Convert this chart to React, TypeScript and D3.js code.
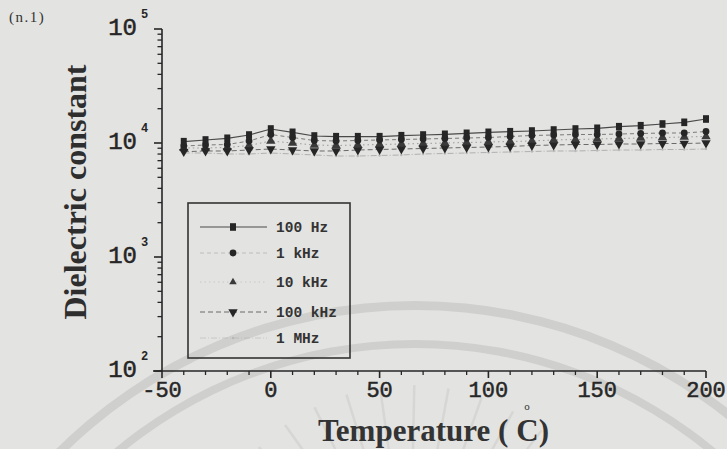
import React from "react";
import * as d3 from "d3";

// ---- data ----
const temperatures = [-40, -30, -20, -10, 0, 10, 20, 30, 40, 50, 60, 70, 80, 90, 100, 110, 120, 130, 140, 150, 160, 170, 180, 190, 200];
const hz100 = [10270, 10630, 11000, 11750, 13270, 12410, 11520, 11360, 11360, 11360, 11590, 11750, 11920, 12160, 12410, 12560, 12740, 13000, 13270, 13460, 13900, 14180, 14680, 15190, 16240];
const khz1 = [9410, 9600, 9700, 10410, 11870, 11170, 10520, 10410, 10520, 10630, 10730, 10840, 10950, 11060, 11170, 11400, 11640, 11750, 11870, 11870, 11990, 12110, 12240, 12240, 12610];
const khz10 = [9040, 9040, 9130, 9510, 10410, 10000, 9600, 9510, 9600, 9700, 9800, 9900, 10000, 10100, 10200, 10310, 10410, 10630, 10730, 10840, 10950, 11060, 11170, 11290, 11400];
const khz100 = [8390, 8510, 8510, 8680, 8860, 8680, 8510, 8510, 8680, 8770, 8860, 8950, 9040, 9130, 9220, 9320, 9510, 9600, 9700, 9700, 9800, 9800, 9900, 9900, 10000];
const mhz1 = [8170, 8170, 8010, 8010, 8170, 8010, 7850, 7690, 7690, 7770, 7850, 8010, 8090, 8170, 8260, 8340, 8420, 8510, 8510, 8590, 8680, 8680, 8770, 8770, 8860];
const seriesNames = ["100 Hz", "1 kHz", "10 kHz", "100 kHz", "1 MHz"];
const xTickValues = [-50, 0, 50, 100, 150, 200];
const yExponents = [2, 3, 4, 5];

const INK = "#262626";
const PAPER = "#e3e3e1";

type Style = { stroke: string; width: number; dash?: string; marker: string; mfill: string };
const styles: Style[] = [
  { stroke: "#4a4a4a", width: 1.2, marker: "square", mfill: INK },
  { stroke: "#7a7a7a", width: 1, dash: "4,3", marker: "circle", mfill: INK },
  { stroke: "#9a9a9a", width: 1, dash: "1.5,3", marker: "triUp", mfill: "#3a3a3a" },
  { stroke: "#6a6a6a", width: 1, dash: "5,3", marker: "triDown", mfill: INK },
  { stroke: "#b0b0b0", width: 1, dash: "6,2,1,2", marker: "dot", mfill: "#b8b8b8" },
];

function Marker({ kind, cx, cy, fill, scale = 1 }: { kind: string; cx: number; cy: number; fill: string; scale?: number }) {
  if (kind === "square") {
    return <rect x={cx - 3 * scale} y={cy - 3.8 * scale} width={6 * scale} height={7.6 * scale} fill={fill} />;
  }
  if (kind === "circle") return <circle cx={cx} cy={cy} r={3.4 * scale} fill={fill} />;
  if (kind === "dot") return <circle cx={cx} cy={cy} r={1.2 * scale} fill={fill} />;
  const tri = d3.symbol().type(d3.symbolTriangle).size(38 * scale * scale)() as string;
  const rot = kind === "triDown" ? 180 : 0;
  return <path d={tri} transform={`translate(${cx},${cy}) rotate(${rot})`} fill={fill} />;
}

export default function App() {
  const W = 727;
  const H = 449;
  const x = d3.scaleLinear().domain([-50, 200]).range([162, 706]);
  const y = d3.scaleLog().domain([1e2, 1e5]).range([371, 29]);
  const series = [hz100, khz1, khz10, khz100, mhz1];

  const line = d3
    .line<number>()
    .x((_, i) => x(temperatures[i]))
    .y((v) => y(v));

  const xMinor = d3.range(-50, 201, 10).filter((t) => t % 50 !== 0);
  const yMinor = y.ticks().filter((v) => Math.abs(Math.log10(v) - Math.round(Math.log10(v))) > 1e-6);

  const x0 = x.range()[0];
  const x1 = x.range()[1];
  const yB = y.range()[0];
  const yT = y.range()[1];

  // watermark (decorative, not data)
  const wmCenter = [415, 810];
  const arcOuter = d3.arc()({ innerRadius: 500, outerRadius: 509, startAngle: -0.8, endAngle: 0.8 } as any) as string;
  const arcInner = d3.arc()({ innerRadius: 462, outerRadius: 470, startAngle: -0.72, endAngle: 0.72 } as any) as string;
  const rayAngles = d3.range(-1.1, 1.11, 0.16);
  const rayCenter = [410, 600];

  const legendRows = [227, 253, 282, 312, 338];

  return (
    <svg
      width={W}
      height={H}
      viewBox={`0 0 ${W} ${H}`}
      style={{ position: "fixed", left: 0, top: 0, background: PAPER }}
    >
      <rect x={0} y={0} width={W} height={H} fill={PAPER} />
      <g transform={`translate(${wmCenter[0]},${wmCenter[1]})`} fill="#cfcfcd">
        <path d={arcOuter} />
        <path d={arcInner} />
      </g>
      <g stroke="#d6d6d4" strokeWidth={2.5}>
        {rayAngles.map((a, i) => (
          <line
            key={"ray" + i}
            x1={rayCenter[0] + Math.sin(a) * 150}
            y1={rayCenter[1] - Math.cos(a) * 150}
            x2={rayCenter[0] + Math.sin(a) * 215}
            y2={rayCenter[1] - Math.cos(a) * 215}
          />
        ))}
      </g>

      {/* panel label */}
      <text x={9} y={22} fontFamily="Liberation Serif" fontSize={15} fill="#333" letterSpacing={1.5}>
        (n.1)
      </text>

      {/* axes */}
      <g stroke={INK} strokeWidth={1.6} fill="none">
        <line x1={x0} x2={x0} y1={yT} y2={yB + 1} />
        <line x1={x0 - 9} x2={x1} y1={yB} y2={yB} />
        {yExponents.map((e) => (
          <line key={"ym" + e} x1={x0 - 8} x2={x0} y1={y(10 ** e)} y2={y(10 ** e)} />
        ))}
        {yMinor.map((v, i) => (
          <line key={"yn" + i} x1={x0 - 4.5} x2={x0} y1={y(v)} y2={y(v)} strokeWidth={1.3} />
        ))}
        {xTickValues.map((t) => (
          <line key={"xm" + t} x1={x(t)} x2={x(t)} y1={yB} y2={yB + 7} />
        ))}
        {xMinor.map((t) => (
          <line key={"xn" + t} x1={x(t)} x2={x(t)} y1={yB} y2={yB + 4} strokeWidth={1.3} />
        ))}
      </g>

      {/* y tick labels */}
      {yExponents.map((e) => (
        <g key={"yl" + e} fill={INK} fontFamily="Liberation Mono">
          <text x={137} y={y(10 ** e) + 6} fontSize={24} textAnchor="end" stroke={INK} strokeWidth={0.5}>
            10
          </text>
          <text x={141} y={y(10 ** e) - 11} fontSize={12} fontWeight="bold">
            {e}
          </text>
        </g>
      ))}

      {/* x tick labels */}
      {xTickValues.map((t) => (
        <text
          key={"xl" + t}
          x={x(t)}
          y={yB + 26}
          fontSize={22}
          fontFamily="Liberation Mono"
          textAnchor="middle"
          fill={INK}
          stroke={INK}
          strokeWidth={0.5}
        >
          {t < 0 ? "-" + Math.abs(t) : t}
        </text>
      ))}

      {/* axis titles */}
      <text
        transform={`translate(86,192) rotate(-90)`}
        textAnchor="middle"
        fontFamily="Liberation Serif"
        fontWeight="bold"
        fontSize={32}
        fill="#2e2e2e"
      >
        Dielectric constant
      </text>
      <text x={318} y={441} fontFamily="Liberation Serif" fontWeight="bold" fontSize={31} fill="#333">
        Temperature (
        <tspan dx={8}>C)</tspan>
      </text>
      <text x={527} y={410} fontFamily="Liberation Serif" fontSize={11} fill="#333" textAnchor="middle">
        o
      </text>

      {/* series lines */}
      {series.map((vals, si) => (
        <path
          key={"l" + si}
          d={line(vals) as string}
          fill="none"
          stroke={styles[si].stroke}
          strokeWidth={styles[si].width}
          strokeDasharray={styles[si].dash}
        />
      ))}
      {/* markers (faint first) */}
      {[4, 2, 1, 3, 0].map((si) =>
        series[si].map((v, i) => (
          <Marker key={`m${si}-${i}`} kind={styles[si].marker} cx={x(temperatures[i])} cy={y(v)} fill={styles[si].mfill} />
        ))
      )}

      {/* legend */}
      <rect x={188} y={203} width={162} height={155} fill="none" stroke="#333" strokeWidth={1.6} />
      {seriesNames.map((name, si) => (
        <g key={"lg" + si}>
          <line
            x1={200}
            x2={267}
            y1={legendRows[si]}
            y2={legendRows[si]}
            stroke={styles[si].stroke}
            strokeWidth={styles[si].width}
            strokeDasharray={styles[si].dash}
            opacity={si === 1 || si === 2 ? 0.35 : si === 4 ? 0.5 : 1}
          />
          <Marker kind={styles[si].marker} cx={233} cy={legendRows[si]} fill={styles[si].mfill} scale={si === 2 ? 0.8 : 1} />
          <text x={276} y={legendRows[si] + 5} fontFamily="Liberation Mono" fontWeight="bold" fontSize={14.5} fill="#333">
            {name}
          </text>
        </g>
      ))}
    </svg>
  );
}
